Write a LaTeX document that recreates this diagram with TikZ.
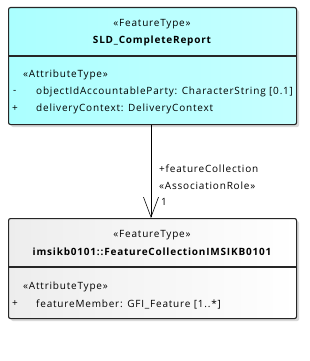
\documentclass[tikz,border=0pt]{standalone}
\usepackage{fontspec}
\setmainfont[LetterSpace=8]{Open Sans}
\usetikzlibrary{shadows,arrows.meta}
\begin{document}
\begin{tikzpicture}[x=1pt,y=-1pt,
  box/.style={draw=black!85,line width=1.1pt,rounded corners=2pt,anchor=north west,inner sep=0pt,
    drop shadow={shadow xshift=2.5pt,shadow yshift=-2.5pt,fill=black,opacity=0.15}},
  cyanbox/.style={box,left color=cyan!33,right color=cyan!22},
  graybox/.style={box,left color=black!7,right color=white},
  txt/.style={font=\fontsize{10}{12}\selectfont,inner sep=0pt},
  lbl/.style={txt,anchor=west},
  bold/.style={txt,font=\fontsize{10}{12}\selectfont\bfseries}]
\useasboundingbox (0,0) rectangle (310,361);
% top class
\node[cyanbox,minimum width=288pt,minimum height=117pt] (top) at (8,7) {};
\draw[line width=1.1pt,black!85] (8,56) -- (296,56);
\node[txt] (t1) at (152,24) {«FeatureType»};
\node[bold] (t2) at (152,41) {SLD\_CompleteReport};
\node[lbl] (t3) at (23,75) {«AttributeType»};
\node[lbl] (t4) at (13,92) {-};
\node[lbl] (t5) at (36,92) {objectIdAccountableParty: CharacterString [0.1]};
\node[lbl] (t6) at (12,109) {+};
\node[lbl] (t7) at (36,109) {deliveryContext: DeliveryContext};
% bottom class
\node[graybox,minimum width=288pt,minimum height=100pt] (bot) at (8,218) {};
\draw[line width=1.1pt,black!85] (8,267) -- (296,267);
\node[txt] (b1) at (152,235) {«FeatureType»};
\node[bold] (b2) at (152,252) {imsikb0101::FeatureCollectionIMSIKB0101};
\node[lbl] (b3) at (23,287) {«AttributeType»};
\node[lbl] (b4) at (12,304) {+};
\node[lbl] (b5) at (36,304) {featureMember: GFI\_Feature [1..*]};
% association
\draw[-{Straight Barb[length=20pt,width=15pt]},line width=0.6pt] (top.south -| 151,0) -- (bot.north -| 151,0);
\node[lbl] (a1) at (159,169) {+featureCollection};
\node[lbl] (a2) at (159,186) {«AssociationRole»};
\node[lbl] (a3) at (161,202) {1};
\end{tikzpicture}
\end{document}
